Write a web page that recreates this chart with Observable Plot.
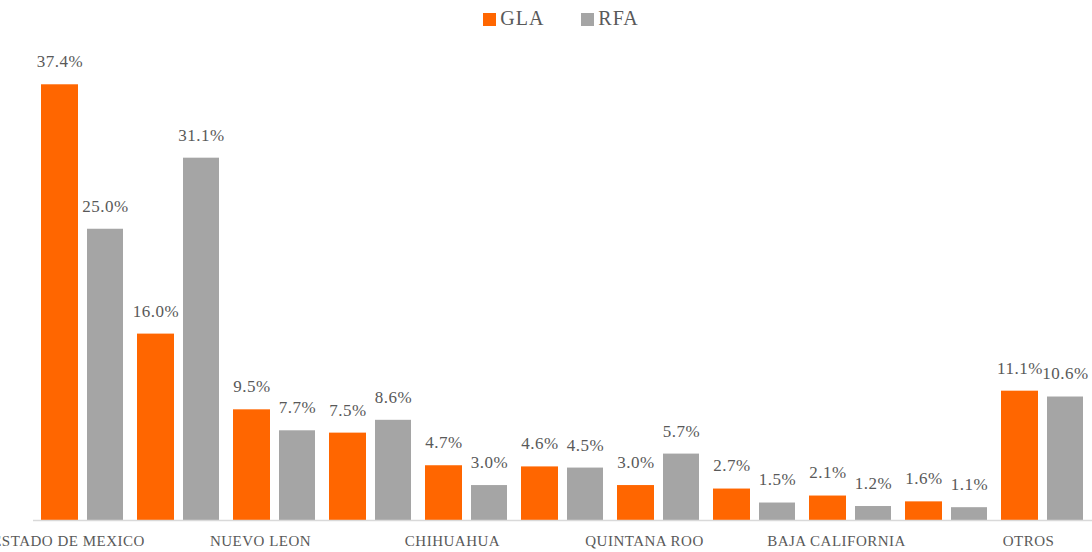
<!DOCTYPE html>
<html><head><meta charset="utf-8">
<script src="https://cdn.jsdelivr.net/npm/d3@7"></script>
<script src="https://cdn.jsdelivr.net/npm/@observablehq/plot@0.6"></script>
<style>
body{margin:0;background:#fff;font-family:"Liberation Serif","DejaVu Serif","Times New Roman",serif;overflow:hidden;}
#legend{height:36px;display:flex;justify-content:center;align-items:center;gap:37px;font-size:20px;color:#595959;letter-spacing:1px;padding-left:30px;}
#legend span.sw{display:inline-block;width:13px;height:13px;margin-right:4px;vertical-align:-1px;}
#chart svg text{letter-spacing:0.5px;}
</style>
</head><body>
<div id="legend"></div>
<div id="chart"></div>
<script>
const categories = ["ESTADO DE MEXICO","CIUDAD DE MEXICO","NUEVO LEON","JALISCO","CHIHUAHUA","PUEBLA","QUINTANA ROO","GUANAJUATO","BAJA CALIFORNIA","SONORA","OTROS"];
const shownLabels = ["ESTADO DE MEXICO","NUEVO LEON","CHIHUAHUA","QUINTANA ROO","BAJA CALIFORNIA","OTROS"];
const series = ["GLA","RFA"];
const colors = ["#FF6600","#A5A5A5"];
const gla = [37.4,16.0,9.5,7.5,4.7,4.6,3.0,2.7,2.1,1.6,11.1];
const rfa = [25.0,31.1,7.7,8.6,3.0,4.5,5.7,1.5,1.2,1.1,10.6];

const glaRows = categories.map((c,i)=>({cat:c, series:"GLA", value:gla[i]}));
const rfaRows = categories.map((c,i)=>({cat:c, series:"RFA", value:rfa[i]}));

const legend = document.getElementById("legend");
series.forEach((s,i)=>{
  const item = document.createElement("div");
  item.innerHTML = `<span class="sw" style="background:${colors[i]}"></span>${s}`;
  legend.appendChild(item);
});

const fmt = d => d.value.toFixed(1) + "%";
const chart = Plot.plot({
  width: 1092,
  height: 516,
  marginLeft: 40,
  marginRight: 9,
  marginTop: 18,
  marginBottom: 32,
  style: {fontFamily: "'Liberation Serif', 'DejaVu Serif', 'Times New Roman', serif", fontSize: "15px", background: "#fff"},
  x: {domain: categories, paddingInner: 0.147, paddingOuter: 0, axis: null},
  y: {domain: [0, 40], axis: null},
  color: {domain: series, range: colors},
  marks: [
    Plot.barY(glaRows, {x: "cat", y: "value", fill: "series", insetRight: 45}),
    Plot.barY(rfaRows, {x: "cat", y: "value", fill: "series", insetLeft: 46}),
    Plot.ruleY([0], {stroke: "#d9d9d9", strokeWidth: 1.5, insetLeft: -7, insetRight: -9}),
    Plot.text(glaRows, {x: "cat", y: "value", text: fmt, dx: -22.5, dy: -23, fill: "#595959", fontSize: 17}),
    Plot.text(rfaRows, {x: "cat", y: "value", text: fmt, dx: 23, dy: -23, fill: "#595959", fontSize: 17}),
    Plot.axisX({tickSize: 0, tickPadding: 15, dx: -14, fontSize: 15, color: "#595959", label: null,
      tickFormat: d => shownLabels.includes(d) ? d : ""})
  ]
});
document.getElementById("chart").appendChild(chart);
</script>
</body></html>
